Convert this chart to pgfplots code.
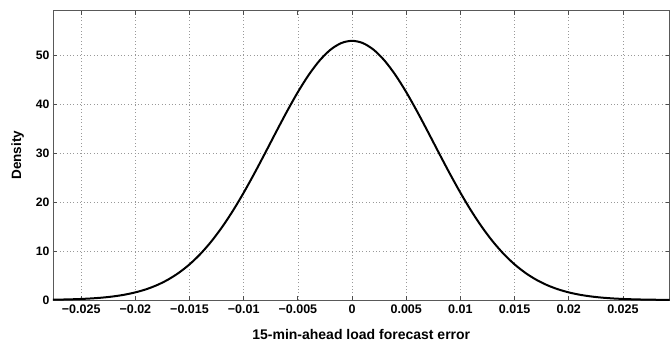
\documentclass[border=0pt]{standalone}
\usepackage{fontspec}
\setmainfont{Liberation Sans}
\usepackage{pgfplots}
\pgfplotsset{compat=1.18}
\begin{document}
\begin{tikzpicture}[x=1pt,y=1pt]
\useasboundingbox (-53,-41) rectangle (617,300);
\begin{axis}[
  at={(0,0)}, anchor=south west,
  scale only axis,
  width=616.5pt, height=289.5pt,
  xmin=-0.0276, xmax=0.0293,
  ymin=0, ymax=59.2,
  xtick={-0.025,-0.02,-0.015,-0.01,-0.005,0,0.005,0.01,0.015,0.02,0.025},
  xticklabels={\textbf{−0.025},\textbf{−0.02},\textbf{−0.015},\textbf{−0.01},\textbf{−0.005},\textbf{0},\textbf{0.005},\textbf{0.01},\textbf{0.015},\textbf{0.02},\textbf{0.025}},
  ytick={0,10,20,30,40,50},
  yticklabels={\textbf{0},\textbf{10},\textbf{20},\textbf{30},\textbf{40},\textbf{50}},
  scaled x ticks=false,
  tick align=inside,
  major tick length=4pt,
  tick style={black!70, line width=0.8pt},
  axis line style={black!65, line width=0.9pt},
  grid=major,
  major grid style={black!40, dash pattern=on 0.8pt off 2.6pt, line width=0.7pt},
  xticklabel style={font=\fontsize{12.5}{14}\selectfont, yshift=-1.5pt},
  yticklabel style={font=\fontsize{12.2}{14}\selectfont},
  xlabel={\textbf{15-min-ahead load forecast error}},
  ylabel={\textbf{Density}},
  xlabel style={font=\fontsize{14}{16}\selectfont, at={(rel axis cs:0.5,0)}, anchor=base, yshift=-39.5pt},
  ylabel style={font=\fontsize{13.5}{16}\selectfont, yshift=5pt},
]
\addplot[black, line width=2pt, smooth] coordinates {
(-0.0293,0.032) (-0.028,0.053) (-0.027,0.086) (-0.026,0.137) (-0.025,0.214) (-0.024,0.330)
(-0.023,0.500) (-0.022,0.743) (-0.021,1.085) (-0.020,1.558) (-0.019,2.197) (-0.018,3.044)
(-0.017,4.146) (-0.016,5.546) (-0.015,7.287) (-0.014,9.411) (-0.013,11.941) (-0.012,14.888)
(-0.011,18.235) (-0.010,21.945) (-0.009,25.946) (-0.008,30.141) (-0.007,34.406) (-0.006,38.582)
(-0.005,42.516) (-0.004,46.026) (-0.003,48.956) (-0.002,51.163) (-0.001,52.535) (0,53.0)
(0.001,52.535) (0.002,51.163) (0.003,48.956) (0.004,46.026) (0.005,42.516) (0.006,38.582)
(0.007,34.406) (0.008,30.141) (0.009,25.946) (0.010,21.945) (0.011,18.235) (0.012,14.888)
(0.013,11.941) (0.014,9.411) (0.015,7.287) (0.016,5.546) (0.017,4.146) (0.018,3.044)
(0.019,2.197) (0.020,1.558) (0.021,1.085) (0.022,0.743) (0.023,0.500) (0.024,0.330)
(0.025,0.214) (0.026,0.137) (0.027,0.086) (0.028,0.053) (0.029,0.032) (0.0293,0.028)
};
\end{axis}
\end{tikzpicture}
\end{document}
